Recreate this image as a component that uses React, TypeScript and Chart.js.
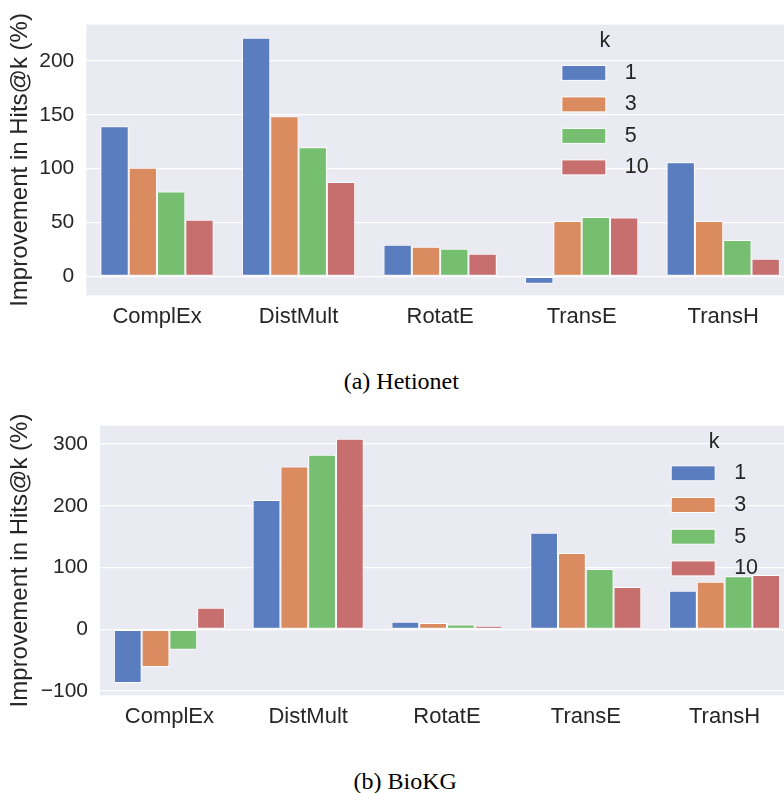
import React, { useEffect, useRef } from "react";
import { Chart, registerables } from "chart.js";

Chart.register(...registerables);

// ---------- data ----------
const categories = ["ComplEx", "DistMult", "RotatE", "TransE", "TransH"];
const kLabels = ["1", "3", "5", "10"];
const barColors = ["#597DBF", "#DA8B5F", "#76BF71", "#C76E6E"];

const hetionetK1 = [139.4, 221.6, 29.4, -6.8, 106];
const hetionetK3 = [100.8, 148.7, 27.5, 51.3, 51.3];
const hetionetK5 = [78.8, 119.9, 25.6, 55, 33.7];
const hetionetK10 = [52.5, 87.5, 21, 54.7, 16.4];
const hetionetTicks = [0, 50, 100, 150, 200];

const biokgK1 = [-86.9, 209.3, 12.3, 156.3, 62.5];
const biokgK3 = [-61, 263.8, 10.2, 123.5, 77];
const biokgK5 = [-32.9, 282.7, 8, 97.6, 85.8];
const biokgK10 = [35.1, 308.6, 5.9, 68.4, 87.9];
const biokgTicks = [-100, 0, 100, 200, 300];

const yTitle = "Improvement in Hits@k (%)";
const legendTitle = "k";
const captionA = "(a) Hetionet";
const captionB = "(b) BioKG";

const TEXT = "#262626";
const SANS = "'Liberation Sans', Arial, sans-serif";
const SERIF = "'Liberation Serif', 'Times New Roman', serif";

const bgPlugin = {
  id: "panelBg",
  beforeDraw(chart: any) {
    const { ctx, chartArea } = chart;
    ctx.save();
    ctx.fillStyle = "#EAEAF2";
    ctx.fillRect(chartArea.left, chartArea.top, chartArea.right - chartArea.left, chartArea.bottom - chartArea.top);
    ctx.restore();
  },
};

const legendPlugin = {
  id: "kLegend",
  afterDatasetsDraw(chart: any, _args: any, opts: any) {
    const { ctx, chartArea } = chart;
    const x0 = chartArea.left + opts.xFrac * (chartArea.right - chartArea.left);
    const y0 = chartArea.top;
    ctx.save();
    ctx.font = `${opts.fontSize}px ${SANS}`;
    ctx.textBaseline = "middle";
    ctx.fillStyle = TEXT;
    ctx.textAlign = "center";
    ctx.fillText(opts.title, x0 + 43, y0 + opts.titleDy);
    chart.data.datasets.forEach((ds: any, i: number) => {
      const cy = y0 + opts.firstDy + i * opts.rowGap;
      ctx.fillStyle = ds.backgroundColor;
      ctx.fillRect(x0, cy - 7.5, 44, 15);
      ctx.strokeStyle = "#ffffff";
      ctx.lineWidth = 1;
      ctx.strokeRect(x0, cy - 7.5, 44, 15);
      ctx.fillStyle = TEXT;
      ctx.textAlign = "left";
      ctx.fillText(ds.label, x0 + 63, cy);
    });
    ctx.restore();
  },
};

type PanelProps = {
  series: number[][];
  ticks: number[];
  yMin: number;
  yMax: number;
  top: number;
  yAxisWidth: number;
  padTop: number;
  xAxisHeight: number;
  legendXFrac: number;
  legendFirstDy: number;
  legendRowGap: number;
};

const CW = 794;
const CH = 340;

function Panel(p: PanelProps) {
  const ref = useRef<HTMLCanvasElement | null>(null);
  useEffect(() => {
    if (!ref.current) return;
    const chart = new Chart(ref.current, {
      type: "bar",
      data: {
        labels: categories,
        datasets: p.series.map((vals, i) => ({
          label: kLabels[i],
          data: vals,
          backgroundColor: barColors[i],
          borderColor: "#ffffff",
          borderWidth: 1,
          borderSkipped: false,
          categoryPercentage: 0.8,
          barPercentage: 1.0,
        })),
      },
      options: {
        responsive: false,
        animation: false,
        devicePixelRatio: 1,
        layout: { padding: { top: p.padTop, left: 0, right: 0, bottom: 0 } },
        plugins: {
          legend: { display: false },
          tooltip: { enabled: false },
          kLegend: {
            title: legendTitle,
            xFrac: p.legendXFrac,
            titleDy: 16,
            firstDy: p.legendFirstDy,
            rowGap: p.legendRowGap,
            fontSize: 21.5,
          },
        } as any,
        scales: {
          x: {
            grid: { display: false, drawTicks: false },
            border: { display: false },
            ticks: { color: TEXT, font: { family: SANS, size: 22 }, padding: 8, maxRotation: 0 },
            afterFit(scale: any) {
              scale.height = p.xAxisHeight;
            },
          },
          y: {
            min: p.yMin,
            max: p.yMax,
            bounds: "data",
            grid: { color: "#ffffff", lineWidth: 1.3, drawTicks: false },
            border: { display: false },
            ticks: {
              color: TEXT,
              font: { family: SANS, size: 21 },
              padding: 12,
              callback: (v: any) => String(v).replace("-", "\u2212"),
            },
            afterBuildTicks(scale: any) {
              scale.ticks = p.ticks.map((v) => ({ value: v }));
            },
            afterFit(scale: any) {
              scale.width = p.yAxisWidth;
            },
            title: {
              display: true,
              text: yTitle,
              color: TEXT,
              font: { family: SANS, size: 24 },
              padding: { top: 5.5, bottom: 0 },
            },
          },
        },
      },
      plugins: [bgPlugin, legendPlugin],
    });
    return () => chart.destroy();
  }, []);
  return (
    <canvas
      ref={ref}
      width={CW}
      height={CH}
      style={{ position: "absolute", left: 0, top: p.top, width: CW, height: CH, display: "block" }}
    />
  );
}

const captionStyle = (centerX: number, top: number): React.CSSProperties => ({
  position: "absolute",
  left: centerX,
  top,
  transform: "translateX(-50%)",
  fontFamily: SERIF,
  fontSize: 24,
  lineHeight: "28px",
  color: "#000",
  whiteSpace: "nowrap",
});

export default function App() {
  return (
    <div
      style={{
        position: "absolute",
        left: 0,
        top: 0,
        width: 784,
        height: 793,
        overflow: "hidden",
        background: "#ffffff",
      }}
    >
      <Panel
        series={[hetionetK1, hetionetK3, hetionetK5, hetionetK10]}
        ticks={hetionetTicks}
        yMin={-17.6}
        yMax={233.7}
        top={0}
        yAxisWidth={86.25}
        padTop={24}
        xAxisHeight={CH - 295.3}
        legendXFrac={0.672}
        legendFirstDy={48.3}
        legendRowGap={31.5}
      />
      <div style={captionStyle(401.3, 367)}>{captionA}</div>
      <Panel
        series={[biokgK1, biokgK3, biokgK5, biokgK10]}
        ticks={biokgTicks}
        yMin={-106.8}
        yMax={329.7}
        top={400}
        yAxisWidth={100}
        padTop={25.7}
        xAxisHeight={CH - 295.3}
        legendXFrac={0.823}
        legendFirstDy={47.6}
        legendRowGap={31.7}
      />
      <div style={captionStyle(405.2, 766.7)}>{captionB}</div>
    </div>
  );
}
